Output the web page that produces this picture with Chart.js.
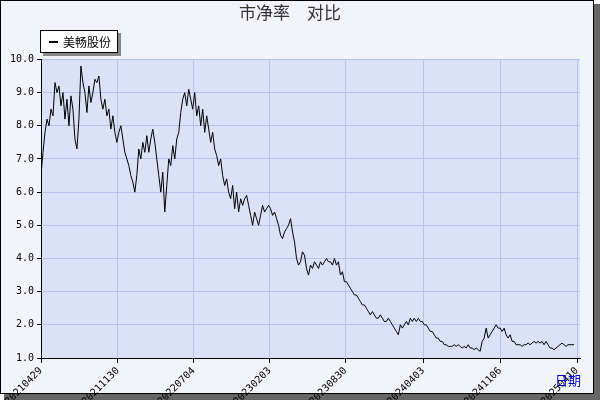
<!DOCTYPE html>
<html><head><meta charset="utf-8">
<script src="https://cdn.jsdelivr.net/npm/chart.js@4"></script>
<style>html,body{margin:0;padding:0;background:#fff}#w{width:600px;height:400px}</style>
</head><body><div id="w"><canvas id="c" width="600" height="400"></canvas></div>
<script>
const seriesName = "美畅股份";
const titleText = "市净率\u2003对比";
const tickLabels = ["20210429","20211130","20220704","20230203","20230830","20240403","20241106","20250410"];
const tickIndex = [0,38.5,76.5,114.5,152.5,191.5,230,268.5];
const pbValues = [6.5,7.2,7.8,8.2,8.0,8.5,8.3,9.3,9.0,9.2,8.6,9.0,8.2,8.8,8.0,8.9,8.5,7.6,7.3,8.2,9.8,9.3,9.0,8.4,9.2,8.7,9.0,9.4,9.3,9.5,8.8,8.5,8.8,8.3,8.5,7.9,8.3,7.8,7.5,7.8,8.0,7.6,7.2,7.0,6.8,6.5,6.3,6.0,6.5,7.3,7.0,7.5,7.2,7.7,7.2,7.6,7.9,7.5,7.0,6.5,6.0,6.6,5.4,6.2,7.0,6.8,7.4,7.0,7.6,7.8,8.4,8.8,9.0,8.6,9.1,8.8,8.5,9.0,8.3,8.6,8.0,8.5,7.8,8.3,7.9,7.5,7.8,7.3,7.1,6.8,7.0,6.5,6.2,6.4,6.0,5.8,6.2,5.5,6.0,5.4,5.8,5.6,5.8,5.9,5.6,5.3,5.0,5.4,5.2,5.0,5.3,5.6,5.4,5.5,5.6,5.5,5.3,5.4,5.2,5.0,4.7,4.6,4.8,4.9,5.0,5.2,4.8,4.5,4.0,3.8,3.9,4.2,4.1,3.7,3.5,3.8,3.7,3.9,3.8,3.7,3.9,3.8,3.9,4.0,3.9,3.9,3.8,4.0,3.8,3.9,3.5,3.6,3.3,3.3,3.2,3.1,3.0,2.9,2.9,2.8,2.7,2.6,2.6,2.5,2.4,2.3,2.4,2.3,2.2,2.2,2.3,2.2,2.1,2.1,2.2,2.1,2.0,1.9,1.8,1.7,2.0,1.9,2.0,2.1,2.0,2.2,2.1,2.2,2.1,2.2,2.1,2.1,2.0,2.0,1.9,1.8,1.8,1.7,1.6,1.6,1.5,1.5,1.4,1.4,1.35,1.35,1.35,1.4,1.35,1.4,1.35,1.3,1.35,1.3,1.4,1.3,1.3,1.25,1.3,1.25,1.2,1.5,1.6,1.9,1.6,1.7,1.8,1.9,2.0,1.9,1.9,1.8,1.9,1.7,1.6,1.7,1.5,1.5,1.4,1.4,1.4,1.35,1.4,1.4,1.45,1.4,1.45,1.5,1.45,1.5,1.45,1.5,1.4,1.5,1.4,1.3,1.3,1.25,1.3,1.35,1.4,1.45,1.4,1.35,1.4,1.4,1.4,1.4];
const points = pbValues.map((v,i)=>({x:i,y:v}));
const F = "'DejaVu Sans Mono', monospace";
const deco = {
  id:'deco',
  beforeDraw(ch){
    const c=ch.ctx, a=ch.chartArea;
    c.save();
    c.fillStyle='#666'; c.fillRect(4,394,596,6); c.fillRect(594,4,6,396);
    c.fillStyle='#f3f3fb'; c.fillRect(0,0,594,394);
    c.strokeStyle='#000'; c.lineWidth=1; c.strokeRect(0.5,0.5,593,393);
    c.fillStyle='#dbe1f7'; c.fillRect(a.left,a.top,a.right-a.left,a.bottom-a.top);
    c.restore();
  },
  afterDraw(ch){
    const c=ch.ctx;
    c.save();
    c.fillStyle='#888'; c.fillRect(43,33,78,23);
    c.fillStyle='#fff'; c.fillRect(40,30,78,23);
    c.strokeStyle='#000'; c.lineWidth=1; c.strokeRect(40.5,30.5,77,22);
    c.fillStyle='#000'; c.fillRect(49,41,9,2);
    c.font="12px 'Noto Sans CJK SC'"; c.textBaseline='middle';
    c.fillText(seriesName,63,42);
    c.fillStyle='#0000cc'; c.font="13px 'Noto Sans CJK SC'";
    c.fillText("日期",555,380);
    c.restore();
  }
};
new Chart(document.getElementById('c'),{
  type:'line',
  data:{datasets:[{label:seriesName,data:points,borderColor:'#000',borderWidth:1,pointRadius:0,tension:0,fill:false}]},
  plugins:[deco],
  options:{
    responsive:false,animation:false,
    layout:{padding:{left:0,right:20,top:0,bottom:0}},
    plugins:{legend:{display:false},tooltip:{enabled:false},
      title:{display:true,text:titleText,color:'#333',font:{family:"'Noto Sans CJK SC'",size:17,weight:'normal'},padding:{top:2,bottom:37}}},
    scales:{
      x:{type:'linear',min:0,max:270,
        afterFit(s){s.height=42;},
        afterBuildTicks(s){s.ticks=tickIndex.map(v=>({value:v}));},
        ticks:{autoSkip:false,minRotation:45,maxRotation:45,color:'#000',font:{family:F,size:10},padding:2,
          callback:(v,i)=>tickLabels[i]},
        grid:{color:'#b7c3ea',drawTicks:true,tickLength:5,tickColor:'#000'},
        border:{color:'#000'}},
      y:{min:1,max:10,
        afterFit(s){s.width=41;},
        ticks:{stepSize:1,color:'#000',font:{family:F,size:10},callback:v=>v.toFixed(1),padding:3},
        grid:{color:'#b7c3ea',tickLength:4,tickColor:'#000'},
        border:{color:'#000'}}
    }
  }
});
</script></body></html>
